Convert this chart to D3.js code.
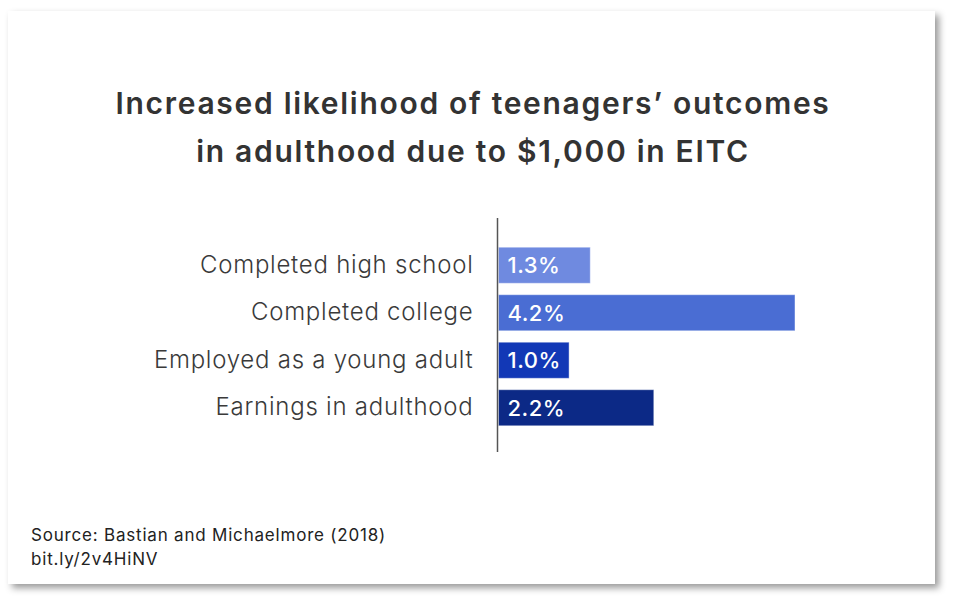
<!DOCTYPE html>
<html>
<head>
<meta charset="utf-8">
<script src="https://cdn.jsdelivr.net/npm/d3@7"></script>
<style>
  body { margin: 0; background: #fff; }
  svg text { font-family: "Inter", "Lato", sans-serif; }
</style>
</head>
<body>
<div id="chart"></div>
<script>
var categories = ["Completed high school", "Completed college", "Employed as a young adult", "Earnings in adulthood"];
var values = [1.3, 4.2, 1.0, 2.2];
var valueLabels = ["1.3%", "4.2%", "1.0%", "2.2%"];
var barColors = ["#6f8ae0", "#4a6dd3", "#1238b6", "#0c2986"];
var titleLines = ["Increased likelihood of teenagers’ outcomes", "in adulthood due to $1,000 in EITC"];
var sourceLines = ["Source: Bastian and Michaelmore (2018)", "bit.ly/2v4HiNV"];

var svgWidth = 956, svgHeight = 606;

var svg = d3.select("#chart")
  .append("svg")
  .attr("width", svgWidth)
  .attr("height", svgHeight);

// card with soft drop shadow
var defs = svg.append("defs");
var filter = defs.append("filter")
  .attr("id", "shadow")
  .attr("x", "-5%").attr("y", "-5%")
  .attr("width", "110%").attr("height", "115%");
filter.append("feDropShadow")
  .attr("dx", 4).attr("dy", 4)
  .attr("stdDeviation", 3.5)
  .attr("flood-color", "#000")
  .attr("flood-opacity", 0.4);

svg.append("rect")
  .attr("x", 8).attr("y", 11)
  .attr("width", 927).attr("height", 573)
  .attr("fill", "#fff")
  .attr("filter", "url(#shadow)");

// title
svg.append("g").selectAll("text")
  .data(titleLines)
  .enter()
  .append("text")
  .attr("x", 473)
  .attr("y", (d, i) => 114 + i * 48)
  .attr("text-anchor", "middle")
  .attr("font-size", 30)
  .attr("font-weight", 600)
  .attr("letter-spacing", 1.7)
  .attr("fill", "#333")
  .text(d => d);

// scales
var x = d3.scaleLinear()
  .domain([0, 4.2])
  .range([498.5, 795]);

var y = d3.scaleBand()
  .domain(categories)
  .range([241.5, 431.5])
  .paddingInner(0.24)
  .paddingOuter(0.12);

var chartGroup = svg.append("g");

chartGroup.selectAll("rect.bar")
  .data(values)
  .enter()
  .append("rect")
  .attr("class", "bar")
  .attr("x", x(0))
  .attr("y", (d, i) => y(categories[i]))
  .attr("width", d => x(d) - x(0))
  .attr("height", y.bandwidth())
  .attr("fill", (d, i) => barColors[i])
  .attr("stroke", "rgba(255,255,255,0.45)")
  .attr("stroke-width", 1);

chartGroup.selectAll("text.val")
  .data(values)
  .enter()
  .append("text")
  .attr("class", "val")
  .attr("x", x(0) + 9)
  .attr("y", (d, i) => y(categories[i]) + y.bandwidth() / 2)
  .attr("dy", "0.36em")
  .attr("font-size", 22)
  .attr("font-weight", 500)
  .attr("letter-spacing", 0.5)
  .attr("fill", "#fff")
  .text((d, i) => valueLabels[i]);

// category axis (labels only, plus vertical line)
var leftAxis = d3.axisLeft(y).tickSize(0).tickPadding(24);
var axisG = chartGroup.append("g")
  .attr("transform", "translate(" + 497.5 + ",0)")
  .call(leftAxis);
axisG.select(".domain").remove();
axisG.selectAll("text")
  .attr("font-size", 24)
  .attr("font-weight", 300)
  .attr("letter-spacing", 0.75)
  .attr("fill", "#3a3a3a")
  .style("font-family", "Inter, Lato, sans-serif");

chartGroup.append("line")
  .attr("x1", 497.5).attr("x2", 497.5)
  .attr("y1", 218).attr("y2", 452)
  .attr("stroke", "#555")
  .attr("stroke-width", 1.5);

// source
svg.append("g").selectAll("text")
  .data(sourceLines)
  .enter()
  .append("text")
  .attr("x", 31)
  .attr("y", (d, i) => 541 + i * 24)
  .attr("font-size", 17)
  .attr("font-weight", 400)
  .attr("letter-spacing", 0.8)
  .attr("fill", "#222")
  .text(d => d);
</script>
</body>
</html>
